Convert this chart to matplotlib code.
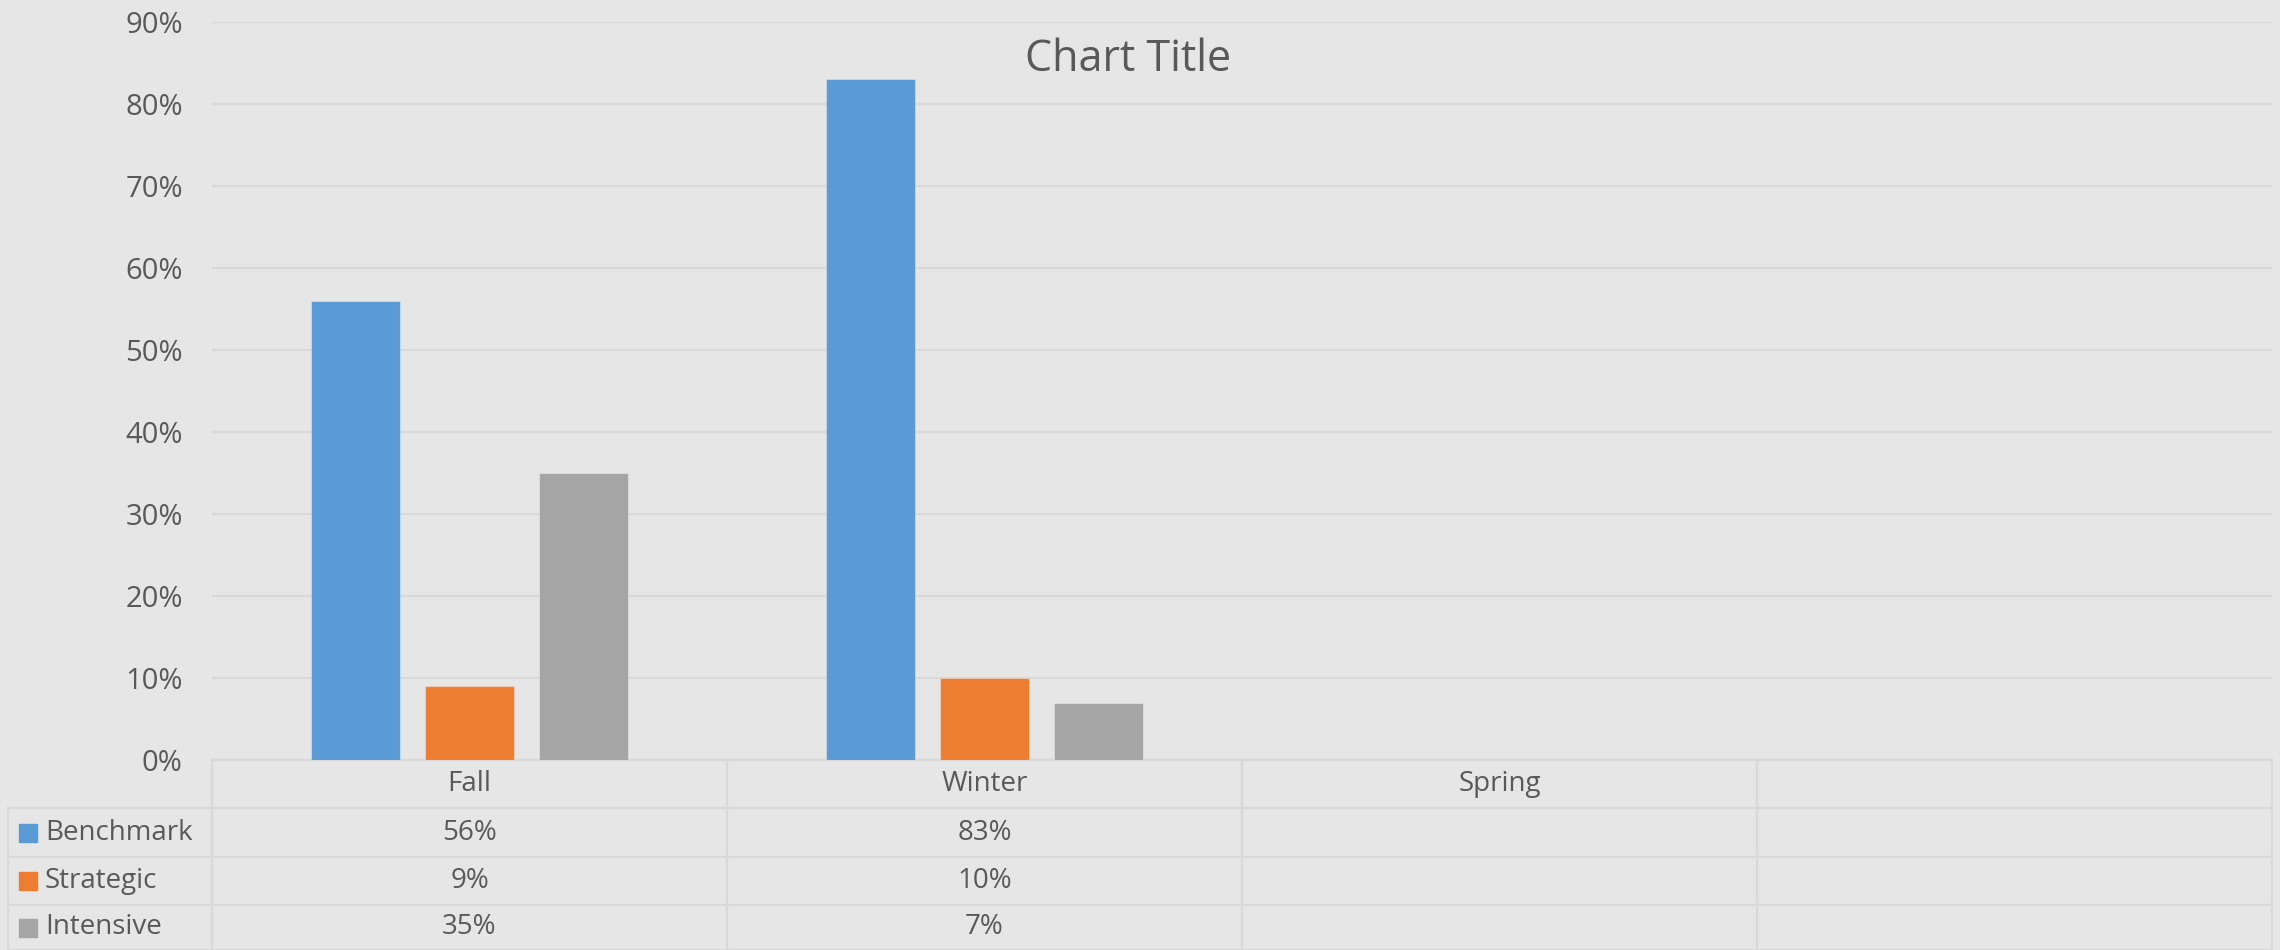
import numpy as np
import matplotlib as mpl
mpl.use('Agg')
import matplotlib.pyplot as plt
import matplotlib.transforms as mtransforms

# data
categories = ['Fall', 'Winter', 'Spring', '']
series_names = ['Benchmark', 'Strategic', 'Intensive']
benchmark = [0.56, 0.83, np.nan, np.nan]
strategic = [0.09, 0.10, np.nan, np.nan]
intensive = [0.35, 0.07, np.nan, np.nan]
yticks = [0, 0.1, 0.2, 0.3, 0.4, 0.5, 0.6, 0.7, 0.8, 0.9]
ytick_labels = ['0%', '10%', '20%', '30%', '40%', '50%', '60%', '70%', '80%', '90%']
title = 'Chart Title'

colors = ['#5B9BD5', '#ED7D31', '#A5A5A5']
bg = '#E7E6E6'
grid_c = '#D9D9D9'
text_c = '#595959'

plt.rcParams['font.family'] = ['Open Sans', 'DejaVu Sans']

W, H = 2280, 950
fig = plt.figure(figsize=(W / 100, H / 100), dpi=100, facecolor=bg)


def fx(x):
    return x / W


def fy(y):
    return 1 - y / H


ax_left, ax_right, ax_top, ax_bot = 212, 2272, 22, 760
ax = fig.add_axes([fx(ax_left), fy(ax_bot), (ax_right - ax_left) / W, (ax_bot - ax_top) / H])
ax.set_facecolor(bg)
ax.set_xlim(-0.5, len(categories) - 0.5)
ax.set_ylim(0, 0.9)

x = np.arange(len(categories))
bw = 0.173
off = 0.222
for i, (vals, c) in enumerate(zip([benchmark, strategic, intensive], colors)):
    ax.bar(x + (i - 1) * off, vals, width=bw, color=c, edgecolor=(1, 1, 1, 0.35),
           linewidth=0.8, zorder=3)

ax.set_yticks(yticks)
ax.set_yticklabels(ytick_labels)
ax.tick_params(axis='y', length=0, pad=21, labelsize=21, labelcolor=text_c)
ax.set_xticks([])
ax.grid(axis='y', color=grid_c, linewidth=1.6, zorder=0)
for s in ax.spines.values():
    s.set_visible(False)

fig.text(fx(1128), fy(71), title, ha='center', va='baseline', fontsize=31, color=text_c)

# data table under the axis
blend = mtransforms.blended_transform_factory(ax.transData, fig.transFigure)
row_lines = [760, 808, 857, 905, 950]
lw = 1.6

# horizontal lines
ax.plot([-0.5, len(categories) - 0.5], [fy(760)] * 2, transform=blend, color=grid_c,
        lw=lw, clip_on=False, zorder=2)
for y in row_lines[1:]:
    fig.add_artist(plt.Line2D([fx(8), fx(ax_right)], [fy(y), fy(y)], color=grid_c, lw=lw))
# vertical lines
for b in np.arange(len(categories) + 1) - 0.5:
    ax.plot([b, b], [fy(760), fy(950)], transform=blend, color=grid_c, lw=lw, clip_on=False)
fig.add_artist(plt.Line2D([fx(8), fx(8)], [fy(808), fy(950)], color=grid_c, lw=lw))

# header
for xi, cat in zip(x, categories):
    ax.text(xi, fy(784), cat, transform=blend, ha='center', va='center', fontsize=20,
            color=text_c)

# rows
for r, (name, vals, c) in enumerate(zip(series_names, [benchmark, strategic, intensive], colors)):
    yc = (row_lines[r + 1] + row_lines[r + 2]) / 2
    fig.add_artist(plt.Rectangle((fx(19), fy(yc + 9)), 18 / W, 18 / H, color=c,
                                 transform=fig.transFigure))
    fig.text(fx(45), fy(yc), name, ha='left', va='center', fontsize=20, color=text_c)
    for xi, v in zip(x, vals):
        if not np.isnan(v):
            ax.text(xi, fy(yc), f'{round(v * 100)}%', transform=blend, ha='center',
                    va='center', fontsize=20, color=text_c)

plt.savefig('out.png', dpi=100, facecolor=bg)
